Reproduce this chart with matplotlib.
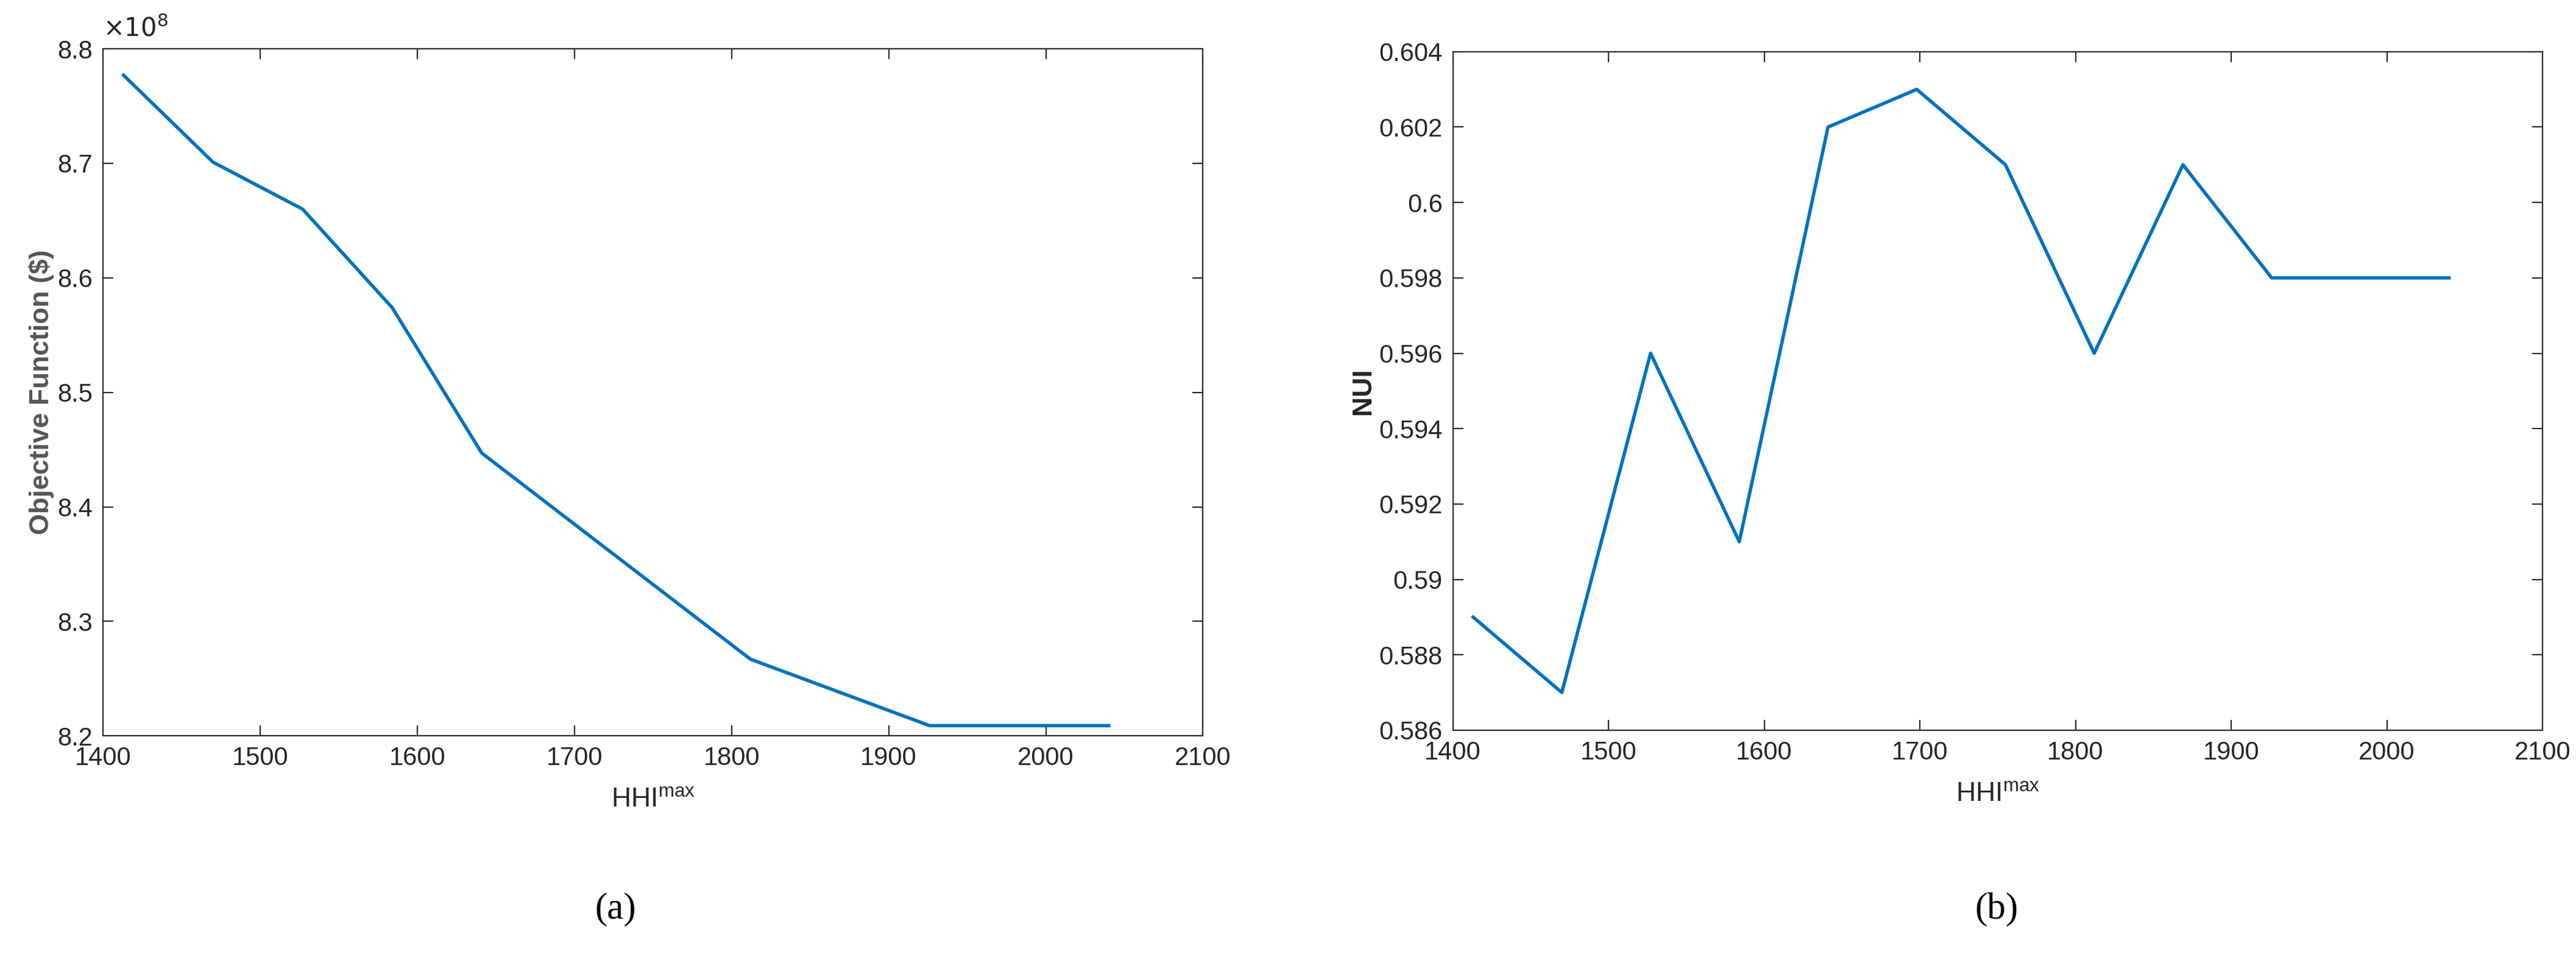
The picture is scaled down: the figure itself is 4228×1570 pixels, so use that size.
import matplotlib
matplotlib.use("Agg")
import matplotlib.pyplot as plt

hhi = [1413, 1470, 1527, 1584, 1641, 1698, 1755, 1812, 1869, 1926, 1983, 2040]
obj = [8.777, 8.701, 8.660, 8.574, 8.447, 8.387, 8.327, 8.267, 8.238, 8.209, 8.209, 8.209]
nui = [0.589, 0.587, 0.596, 0.591, 0.602, 0.603, 0.601, 0.596, 0.601, 0.598, 0.598, 0.598]

plt.rcParams['font.family'] = ['Liberation Sans', 'DejaVu Sans']
color = '#0072BD'
fig = plt.figure(figsize=(42.28, 15.70), dpi=100)
ax1 = fig.add_axes([0.040, 0.231, 0.427, 0.718])
ax2 = fig.add_axes([0.564, 0.237, 0.423, 0.709])

ax1.plot(hhi, obj, color=color, lw=4)
ax1.set_xlim(1400, 2100); ax1.set_ylim(8.2, 8.8)
ax1.set_yticks([8.2, 8.3, 8.4, 8.5, 8.6, 8.7, 8.8])
ax1.set_yticklabels(['8.2', '8.3', '8.4', '8.5', '8.6', '8.7', '8.8'])
ax1.text(0.0, 1.01, r'$\times10^{8}$', transform=ax1.transAxes, fontsize=30, color='#262626', va='bottom')
ax1.set_ylabel('Objective Function ($)', fontsize=32, fontweight='bold', color='#555555')

ax2.plot(hhi, nui, color=color, lw=4)
ax2.set_xlim(1400, 2100); ax2.set_ylim(0.586, 0.604)
yt = [0.586, 0.588, 0.590, 0.592, 0.594, 0.596, 0.598, 0.600, 0.602, 0.604]
ax2.set_yticks(yt)
ax2.set_yticklabels(['0.586', '0.588', '0.59', '0.592', '0.594', '0.596', '0.598', '0.6', '0.602', '0.604'])
ax2.set_ylabel('NUI', fontsize=32, fontweight='bold', color='#262626')

for ax in (ax1, ax2):
    ax.set_xticks(range(1400, 2101, 100))
    ax.tick_params(labelsize=30, colors='#262626', direction='in', length=12, width=1.5, top=True, right=True, pad=12)
    for s in ax.spines.values():
        s.set_linewidth(1.5); s.set_color('#262626')
    ax.set_xlabel(r'HHI$^{\mathregular{max}}$', fontsize=32, color='#262626', labelpad=20)

fig.text(0.239, 0.04, '(a)', fontsize=44, family=['Liberation Serif', 'DejaVu Serif'], ha='center')
fig.text(0.775, 0.04, '(b)', fontsize=44, family=['Liberation Serif', 'DejaVu Serif'], ha='center')
fig.savefig('out.png', dpi=100)
